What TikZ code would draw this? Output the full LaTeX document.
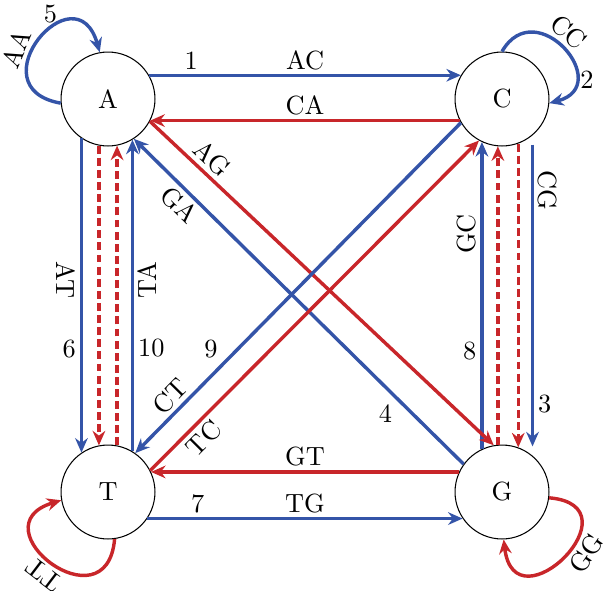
\documentclass[tikz,border=0pt]{standalone}
\usetikzlibrary{arrows.meta}
\definecolor{bblue}{RGB}{52,84,168}
\definecolor{rred}{RGB}{200,38,42}
\begin{document}
\begin{tikzpicture}[x=0.38pt,y=0.38pt,>={Stealth[length=5.5pt,width=4.8pt]},
  state/.style={draw,circle,line width=0.4pt,minimum size=35.7pt,inner sep=0pt},
  bl/.style={->,bblue,line width=1.3pt},
  rd/.style={->,rred,line width=1.3pt},
  rdd/.style={rd,dash pattern=on 3pt off 1.6pt},
  lbl/.style={text=black,inner sep=1.5pt}]
  \useasboundingbox (0,0) rectangle (608,590);
  \node[state] (A) at (108,491) {A};
  \node[state] (C) at (502,491) {C};
  \node[state] (T) at (108,98) {T};
  \node[state] (G) at (502,98) {G};
  % top and bottom
  \draw[bl] (A.30) -- (C.150) node[lbl,pos=.135,above] (n1) {1} node[lbl,pos=.5,above] (lAC) {AC};
  \draw[rd] (C.207) -- (A.333) node[lbl,pos=.5,above] (lCA) {CA};
  \draw[rd] (G.155) -- (T.25) node[lbl,pos=.5,above] (lGT) {GT};
  \draw[bl] (T.326) -- (G.214) node[lbl,pos=.16,above] (n7) {7} node[lbl,pos=.5,above] (lTG) {TG};
  % left side
  \draw[bl] (A.236) -- (T.124) node[lbl,pos=.45,rotate=-90,anchor=north] (lAT) {AT} node[lbl,pos=.67,left] (n6) {6};
  \draw[rdd] (A.259) -- (T.101);
  \draw[rdd] (T.79) -- (A.281);
  \draw[bl] (T.59) -- (A.301) node[lbl,pos=.55,rotate=90,anchor=north] (lTA) {TA} node[lbl,pos=.33,right] (n10) {10};
  % right side
  \draw[bl] (G.115) -- (C.245) node[lbl,pos=.7,rotate=90,anchor=south] (lGC) {GC} node[lbl,pos=.32,left] (n8) {8};
  \draw[rdd] (G.95) -- (C.265);
  \draw[rdd] (C.290) -- (G.70);
  \draw[bl,shorten <=3.5pt,shorten >=3.5pt] (C.310) -- (G.50) node[lbl,pos=.17,rotate=-90,anchor=south] (lCG) {CG} node[lbl,pos=.84,right] (n3) {3};
  % diagonals
  \draw[rd] (A.332) -- (G.100) node[lbl,pos=.15,sloped,above] (lAG) {AG};
  \draw[bl] (G.144) -- (A.303) node[lbl,pos=.83,sloped,below] (lGA) {GA} node[lbl,pos=.2,below left] (n4) {4};
  \draw[bl] (C.210) -- (T.55) node[lbl,pos=.86,sloped,above] (lCT) {CT} node[lbl,pos=.73,above left] (n9) {9};
  \draw[rd] (T.27) -- (C.241) node[lbl,pos=.13,sloped,below] (lTC) {TC};
  % loops
  \draw[bl] (A.185) to[out=170,in=106,looseness=3.5] node[lbl,pos=.4,sloped,above] (lAA) {AA} node[lbl,pos=.6,above] (n5) {5} (A.100);
  \draw[bl] (C.90) to[out=60,in=15,looseness=2.5] node[lbl,pos=.45,sloped,above] (lCC) {CC} node[lbl,pos=.75,right] (n2) {2} (C.355);
  \draw[rd] (T.278) to[out=265,in=197,looseness=3.5] node[lbl,pos=.5,sloped,allow upside down,above] (lTT) {TT} (T.190);
  \draw[rd] (G.353) to[out=-5,in=277,looseness=3.8] node[lbl,pos=.42,sloped,below] (lGG) {GG} (G.272);
\end{tikzpicture}
\end{document}
